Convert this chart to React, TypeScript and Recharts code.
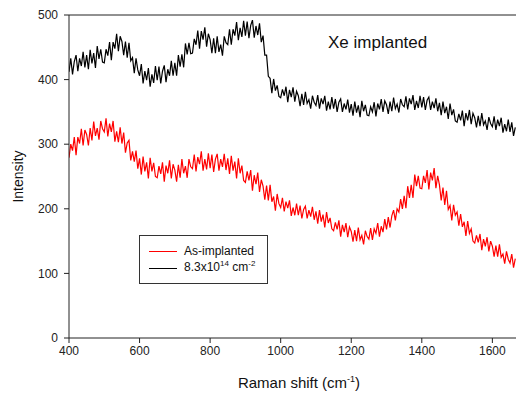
import React from "react";
import { LineChart, Line, XAxis, YAxis, ReferenceLine } from "recharts";

const X_START = 400;
const X_STEP = 5;

const xTicks = [400, 600, 800, 1000, 1200, 1400, 1600];
const yTicks = [0, 100, 200, 300, 400, 500];

const seriesNames = ["As-implanted", "8.3x10^14 cm^-2"];

// Xe implanted, 8.3x10^14 cm^-2 (black), sampled every 5 cm^-1 from 400
const blackValues = [
  412, 433, 408, 428, 438, 413, 433, 421, 443, 419,
  438, 416, 446, 425, 441, 418, 452, 432, 447, 427,
  426, 447, 437, 458, 430, 458, 448, 471, 444, 467,
  459, 438, 459, 434, 457, 429, 434, 410, 433, 415,
  406, 424, 394, 413, 399, 418, 389, 408, 395, 421,
  399, 420, 394, 413, 422, 396, 416, 406, 429, 406,
  426, 406, 438, 420, 439, 419, 456, 439, 457, 440,
  441, 463, 454, 476, 448, 475, 462, 481, 451, 471,
  462, 441, 464, 441, 467, 443, 454, 437, 467, 457,
  454, 478, 454, 478, 468, 489, 461, 480, 466, 491,
  468, 490, 464, 484, 492, 465, 483, 469, 487, 458,
  468, 438, 438, 405, 402, 379, 401, 383, 391, 374,
  372, 385, 375, 389, 365, 384, 373, 388, 366, 382,
  375, 359, 378, 361, 381, 363, 369, 355, 375, 365,
  360, 376, 355, 371, 362, 375, 352, 366, 354, 373,
  355, 370, 350, 365, 370, 350, 363, 354, 369, 349,
  362, 344, 366, 349, 360, 342, 367, 351, 361, 345,
  344, 358, 350, 365, 343, 363, 354, 370, 350, 367,
  361, 347, 366, 351, 372, 355, 362, 349, 370, 361,
  358, 374, 354, 371, 362, 376, 353, 367, 356, 375,
  357, 373, 353, 368, 373, 353, 366, 356, 371, 351,
  364, 345, 366, 348, 358, 339, 363, 345, 354, 336,
  334, 347, 337, 352, 328, 348, 337, 353, 331, 348,
  341, 326, 344, 328, 348, 330, 336, 322, 342, 332,
  327, 343, 322, 338, 328, 341, 318, 331, 320, 338,
  319, 334, 313, 326,
];

// As-implanted (red), sampled every 5 cm^-1 from 400
const redValues = [
  279, 300, 290, 311, 283, 311, 301, 324, 298, 322,
  315, 298, 325, 306, 335, 313, 325, 307, 336, 324,
  319, 340, 312, 332, 319, 336, 304, 320, 303, 326,
  301, 318, 287, 302, 306, 275, 289, 273, 290, 262,
  278, 253, 281, 258, 272, 247, 279, 258, 271, 250,
  248, 266, 254, 272, 242, 267, 255, 275, 247, 269,
  260, 242, 268, 248, 277, 255, 266, 248, 277, 265,
  262, 284, 258, 280, 269, 289, 259, 277, 261, 286,
  263, 284, 257, 277, 285, 259, 277, 265, 285, 260,
  278, 254, 282, 259, 273, 247, 278, 255, 267, 244,
  241, 258, 244, 260, 228, 252, 238, 256, 226, 245,
  235, 214, 236, 213, 237, 211, 219, 197, 223, 208,
  202, 217, 196, 211, 201, 213, 189, 202, 190, 208,
  190, 205, 185, 199, 204, 185, 198, 188, 203, 183,
  196, 177, 198, 180, 191, 171, 195, 178, 186, 169,
  166, 179, 168, 182, 157, 175, 164, 178, 156, 172,
  165, 149, 167, 150, 171, 152, 159, 145, 166, 157,
  153, 170, 152, 169, 162, 178, 157, 173, 164, 184,
  168, 187, 171, 189, 198, 182, 200, 195, 215, 200,
  220, 201, 235, 217, 237, 217, 253, 235, 251, 232,
  231, 251, 240, 260, 230, 256, 244, 263, 232, 251,
  237, 213, 233, 206, 228, 199, 205, 182, 206, 190,
  195, 174, 192, 172, 180, 158, 181, 162, 169, 150,
  147, 159, 148, 161, 136, 153, 142, 156, 134, 150,
  142, 126, 143, 126, 145, 125, 130, 115, 134, 122,
  116, 130, 109, 123,
];

const data = blackValues.map((b, i) => ({
  x: X_START + i * X_STEP,
  black: b,
  red: redValues[i],
}));

const FONT = "'Liberation Sans', Arial, sans-serif";
const AXIS = "#222";

const XTitle = () => (
  <text x={299} y={388} textAnchor="middle" fontFamily={FONT} fontSize={15} fill="#111">
    Raman shift (cm
    <tspan fontSize={9} dy={-6}>-1</tspan>
    <tspan dy={6}>)</tspan>
  </text>
);

const YTitle = (props: any) => {
  const vb = props.viewBox || { y: 15, height: 323 };
  const cy = vb.y + vb.height / 2;
  return (
    <text
      x={18}
      y={cy}
      transform={`rotate(-90, 18, ${cy})`}
      textAnchor="middle"
      dominantBaseline="central"
      fontFamily={FONT}
      fontSize={14}
      fill="#111"
    >
      Intensity
    </text>
  );
};

export default function App() {
  return (
    <div style={{ position: "absolute", left: 0, top: 0, width: 516, height: 396, background: "#fff", fontFamily: FONT }}>
      <LineChart width={516} height={396} data={data} margin={{ top: 15, right: 0, bottom: 0, left: 0 }}>
        <XAxis
          dataKey="x"
          type="number"
          domain={[400, 1667]}
          ticks={xTicks}
          allowDataOverflow
          height={58}
          stroke={AXIS}
          tickSize={5}
          tickMargin={3}
          tick={{ fill: "#222", fontSize: 12, fontFamily: FONT }}
          label={<XTitle />}
        />
        <YAxis
          type="number"
          domain={[0, 500]}
          ticks={yTicks}
          width={69}
          stroke={AXIS}
          tickSize={5}
          tickMargin={6}
          tick={{ fill: "#222", fontSize: 12, fontFamily: FONT }}
          label={<YTitle />}
        />
        <ReferenceLine y={500} stroke={AXIS} />
        <Line
          name={seriesNames[0]}
          dataKey="red"
          stroke="#ff0000"
          strokeWidth={1.2}
          dot={false}
          isAnimationActive={false}
          type="linear"
        />
        <Line
          name={seriesNames[1]}
          dataKey="black"
          stroke="#000000"
          strokeWidth={1.2}
          dot={false}
          isAnimationActive={false}
          type="linear"
        />
      </LineChart>
      <div
        style={{
          position: "absolute",
          left: 328,
          top: 33,
          fontSize: 17,
          fontFamily: FONT,
          color: "#111",
          lineHeight: "20px",
          whiteSpace: "nowrap",
        }}
      >
        Xe implanted
      </div>
      <div
        style={{
          position: "absolute",
          left: 139,
          top: 235,
          width: 127,
          height: 47,
          border: "1px solid #333",
          fontFamily: FONT,
          fontSize: 12,
          color: "#111",
        }}
      >
        <div style={{ position: "absolute", left: 9, top: 15, width: 28, height: 1, background: "#ff0000" }} />
        <div style={{ position: "absolute", left: 44, top: 8, lineHeight: "14px", whiteSpace: "nowrap" }}>As-implanted</div>
        <div style={{ position: "absolute", left: 9, top: 32, width: 28, height: 1, background: "#000" }} />
        <div style={{ position: "absolute", left: 44, top: 24, lineHeight: "14px", whiteSpace: "nowrap" }}>
          8.3x10<sup style={{ fontSize: 8, verticalAlign: 0, position: "relative", top: -5 }}>14</sup> cm
          <sup style={{ fontSize: 8, verticalAlign: 0, position: "relative", top: -5 }}>-2</sup>
        </div>
      </div>
    </div>
  );
}
